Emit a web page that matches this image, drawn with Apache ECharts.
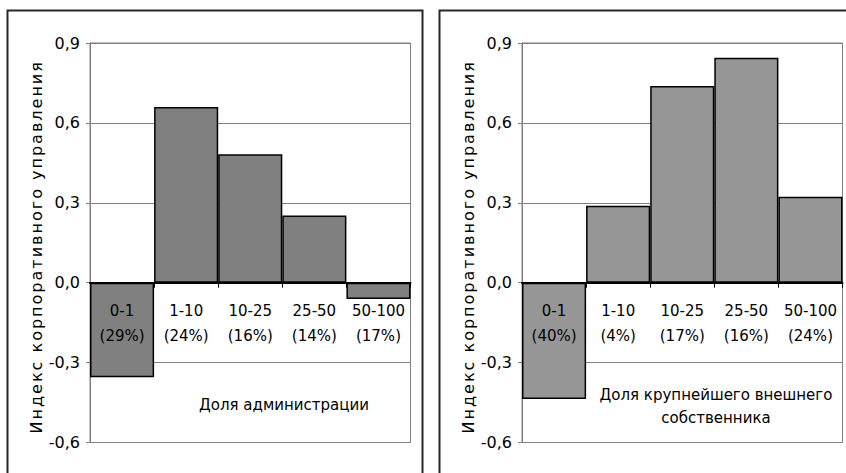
<!DOCTYPE html>
<html>
<head>
<meta charset="utf-8">
<script src="https://cdn.jsdelivr.net/npm/echarts@6/dist/echarts.min.js"></script>
<style>
html,body{margin:0;padding:0;background:#fff;}
#chart{width:846px;height:473px;}
</style>
</head>
<body>
<div id="chart"></div>
<script>
const categories = ['0-1', '1-10', '10-25', '25-50', '50-100'];
const adminShares = ['29%', '24%', '16%', '14%', '17%'];
const adminValues = [-0.355, 0.66, 0.482, 0.252, -0.061];
const ownerShares = ['40%', '4%', '17%', '16%', '24%'];
const ownerValues = [-0.437, 0.289, 0.739, 0.845, 0.323];
const yTickLabels = ['-0,6', '-0,3', '0,0', '0,3', '0,6', '0,9'];
const yAxisTitle = 'Индекс корпоративного управления';
const adminTitle = 'Доля администрации';
const ownerTitle = 'Доля крупнейшего внешнего\nсобственника';

const FONT = 'DejaVu Sans';
const Y_MIN = -0.6, Y_MAX = 0.9, Y_STEP = 0.3;
const chart = echarts.init(document.getElementById('chart'), null, {renderer: 'svg'});

function xAxisFor(gridIndex, shares, offset) {
  return {
    type: 'category', gridIndex: gridIndex, data: categories, z: 5,
    position: 'bottom', offset: offset,
    axisLine: {onZero: false, lineStyle: {color: '#000', width: 2}},
    axisTick: {show: true, alignWithLabel: false, length: 5, lineStyle: {color: '#000', width: 1}},
    axisLabel: {
      margin: 16, color: '#000', fontFamily: FONT, fontSize: 15, lineHeight: 25,
      interval: 0,
      formatter: function (v, i) { return v + '\n(' + shares[i] + ')'; }
    },
    splitLine: {show: false}
  };
}
function yAxisFor(gridIndex) {
  return {
    type: 'value', gridIndex: gridIndex, min: Y_MIN, max: Y_MAX, interval: Y_STEP,
    name: yAxisTitle, nameLocation: 'middle', nameGap: 38,
    nameTextStyle: {color: '#000', fontFamily: FONT, fontSize: 16, padding: [0, 8, 0, 0]},
    axisLine: {show: true, lineStyle: {color: '#808080', width: 1}},
    axisTick: {show: true, length: 4, lineStyle: {color: '#808080'}},
    axisLabel: {
      margin: 10, color: '#000', fontFamily: FONT, fontSize: 16,
      formatter: function (v, i) { return yTickLabels[i]; }
    },
    splitLine: {show: true, lineStyle: {color: '#808080', width: 1}}
  };
}

function buildOption(off0, off1) {
  return {
    animation: false,
    grid: [
      {left: 90, top: 43, width: 320.5, height: 399.5, show: true, borderColor: '#808080', borderWidth: 1, containLabel: false, outerBoundsMode: 'none'},
      {left: 522, top: 43, width: 320.5, height: 399.5, show: true, borderColor: '#808080', borderWidth: 1, containLabel: false, outerBoundsMode: 'none'}
    ],
    xAxis: [xAxisFor(0, adminShares, off0), xAxisFor(1, ownerShares, off1)],
    yAxis: [yAxisFor(0), yAxisFor(1)],
    series: [
      {type: 'bar', xAxisIndex: 0, yAxisIndex: 0, data: adminValues, barCategoryGap: '0%',
       itemStyle: {color: '#808080', borderColor: '#000', borderWidth: 1.5}},
      {type: 'bar', xAxisIndex: 1, yAxisIndex: 1, data: ownerValues, barCategoryGap: '0%',
       itemStyle: {color: '#969696', borderColor: '#000', borderWidth: 1.5}}
    ],
    graphic: [
      {type: 'rect', shape: {x: 7.5, y: 10.5, width: 415, height: 480}, style: {fill: 'none', stroke: '#262626', lineWidth: 2}, silent: true, z: -1},
      {type: 'rect', shape: {x: 439.5, y: 10.5, width: 420, height: 480}, style: {fill: 'none', stroke: '#262626', lineWidth: 2}, silent: true, z: -1},
      {type: 'text', x: 284, y: 405, style: {text: adminTitle, fill: '#000', font: '15px "DejaVu Sans"', textAlign: 'center', textVerticalAlign: 'middle'}, z: 10},
      {type: 'text', x: 716, y: 406.5, style: {text: ownerTitle, fill: '#000', font: '15px "DejaVu Sans"', textAlign: 'center', textVerticalAlign: 'middle', lineHeight: 23}, z: 10}
    ]
  };
}

chart.setOption(buildOption(0, 0));
// place each category axis on the zero line, using the library's own value scale
const off0 = chart.convertToPixel({yAxisIndex: 0}, 0) - chart.convertToPixel({yAxisIndex: 0}, Y_MIN);
const off1 = chart.convertToPixel({yAxisIndex: 1}, 0) - chart.convertToPixel({yAxisIndex: 1}, Y_MIN);
chart.setOption(buildOption(off0, off1));

document.querySelectorAll('#chart text').forEach(function (t) {
  if (t.textContent === yAxisTitle) { t.setAttribute('letter-spacing', '2px'); }
});
</script>
</body>
</html>
